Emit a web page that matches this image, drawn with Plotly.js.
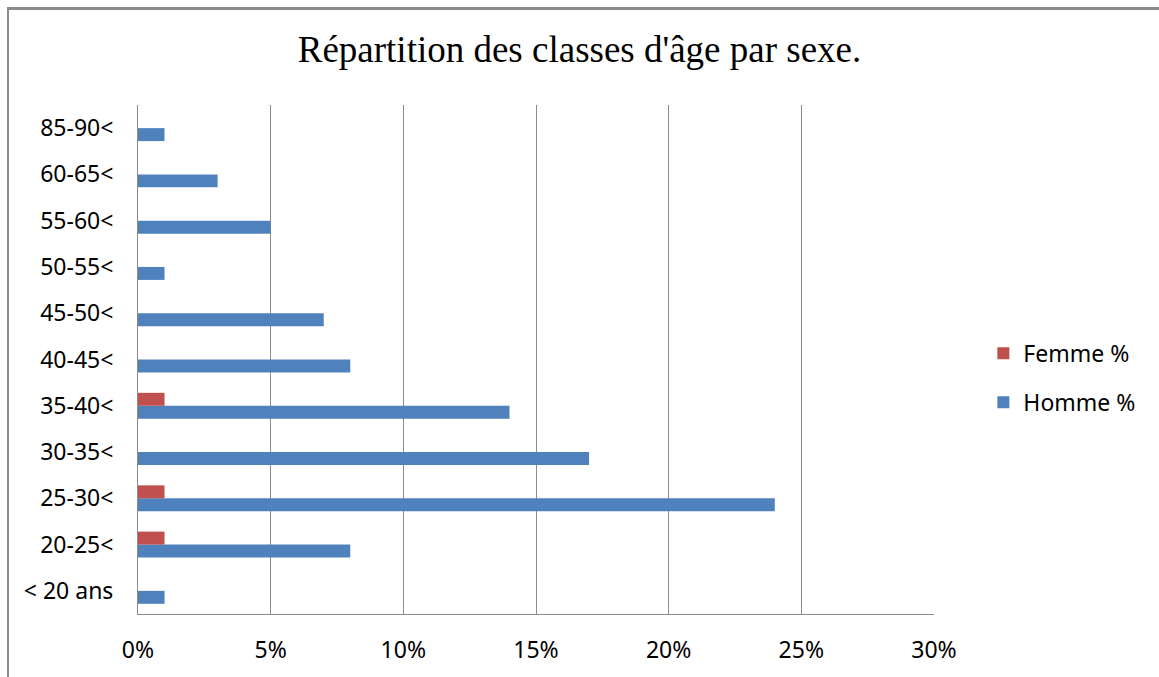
<!DOCTYPE html>
<html>
<head>
<meta charset="utf-8">
<script src="https://cdn.plot.ly/plotly-3.0.1.min.js"></script>
<style>
html,body{margin:0;padding:0;background:#fff;}
#wrap{position:absolute;left:0;top:0;width:1159px;height:677px;}
#chart{position:absolute;left:0;top:0;width:1159px;height:677px;}
#frame{position:absolute;left:7px;top:7px;width:1160px;height:700px;border-left:2px solid #8c8c8c;border-top:3px solid #8c8c8c;pointer-events:none;}
</style>
</head>
<body>
<div id="wrap">
<div id="chart"></div>
<div id="frame"></div>
</div>
<script>
const categories = ["< 20 ans", "20-25<", "25-30<", "30-35<", "35-40<", "40-45<", "45-50<", "50-55<", "55-60<", "60-65<", "85-90<"];
const hommeValues = [0.01, 0.08, 0.24, 0.17, 0.14, 0.08, 0.07, 0.01, 0.05, 0.03, 0.01];
const femmeValues = [0, 0.01, 0.01, 0, 0.01, 0, 0, 0, 0, 0, 0];
const xTickValues = [0, 0.05, 0.10, 0.15, 0.20, 0.25, 0.30];
const xTickLabels = ["0%", "5%", "10%", "15%", "20%", "25%", "30%"];

const tickFont = {family: "Noto Sans, Liberation Sans, sans-serif", size: 23, color: "#000"};

const traces = [
  {type: "bar", orientation: "h", name: "Homme %", y: categories, x: hommeValues,
   marker: {color: "#4F81BD", line: {width: 0}}, legendgroup: "h", legendrank: 2, hoverinfo: "x+y"},
  {type: "bar", orientation: "h", name: "Femme %", y: categories, x: femmeValues,
   marker: {color: "#C0504D", line: {width: 0}}, legendgroup: "f", legendrank: 1, hoverinfo: "x+y"}
];

const layout = {
  width: 1159, height: 677,
  margin: {l: 138, r: 225, t: 105, b: 63, pad: 0},
  paper_bgcolor: "#fff", plot_bgcolor: "#fff",
  barmode: "group", bargap: 0.44, bargroupgap: 0,
  title: {text: "Répartition des classes d'âge par sexe.", font: {family: "Liberation Serif, Times New Roman, serif", size: 37, color: "#000"},
          x: 0.5, xanchor: "center", xref: "container", y: 0.927, yanchor: "middle"},
  xaxis: {range: [0, 0.30], tickvals: xTickValues, ticktext: xTickLabels, showgrid: true, gridcolor: "#8c8c8c", gridwidth: 1,
          zeroline: false, showline: true, linecolor: "#8c8c8c", linewidth: 1, ticks: "", tickfont: tickFont, ticklabelstandoff: 15, fixedrange: true},
  yaxis: {type: "category", categoryorder: "array", categoryarray: categories, showgrid: false, zeroline: false,
          showline: true, linecolor: "#8c8c8c", linewidth: 1, ticks: "", tickfont: tickFont, ticklabelstandoff: 19, fixedrange: true},
  showlegend: true,
  legend: {x: 1.062, xanchor: "left", y: 0.464, yanchor: "middle", traceorder: "grouped", tracegroupgap: 16,
           font: {family: "Noto Sans, Liberation Sans, sans-serif", size: 23, color: "#000"}, itemwidth: 30, bgcolor: "rgba(0,0,0,0)"}
};

Plotly.newPlot("chart", traces, layout, {displayModeBar: false, staticPlot: true});
</script>
</body>
</html>
